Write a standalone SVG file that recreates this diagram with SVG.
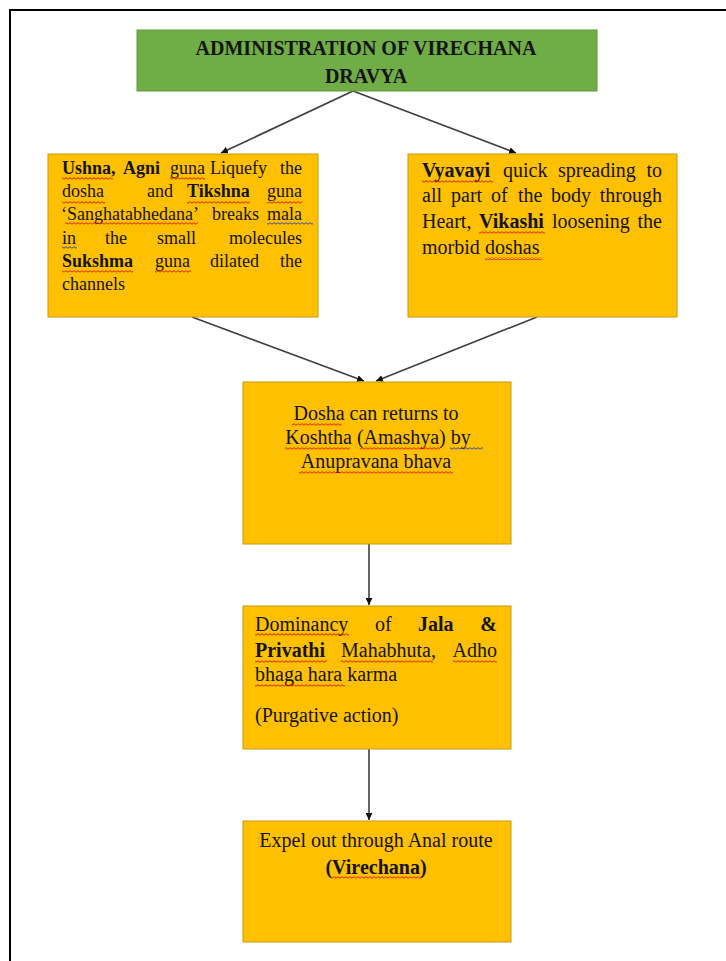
<svg xmlns="http://www.w3.org/2000/svg" width="726" height="961" viewBox="0 0 726 961">
<style>
.t{font-family:"Liberation Serif","Times New Roman",serif;font-size:20px;fill:#141414}
.s{font-size:18px}
.b{font-weight:bold}
.e{text-anchor:end}
.m{text-anchor:middle}
.box{fill:#FFC000;stroke:#C99A06;stroke-width:1}
.conn{stroke:#3f3f3f;stroke-width:1.6;fill:none;marker-end:url(#ah)}
</style>
<defs>
<marker id="ah" viewBox="0 0 10 10" refX="10" refY="5" markerWidth="7" markerHeight="7" markerUnits="userSpaceOnUse" orient="auto">
<path d="M0 0 L10 5 L0 10 z" fill="#111"/>
</marker>
<pattern id="sq" width="4" height="3" patternUnits="userSpaceOnUse">
<path d="M0 2.2 L2 0.7 L4 2.2" fill="none" stroke="#e01010" stroke-width="0.9"/>
</pattern>
<pattern id="sqb" width="4" height="3" patternUnits="userSpaceOnUse">
<path d="M0 2.2 L2 0.7 L4 2.2" fill="none" stroke="#2a3bc0" stroke-width="0.9"/>
</pattern>
</defs>
<rect width="726" height="961" fill="#fff"/>
<path d="M10 961 V10 H726" fill="none" stroke="#000" stroke-width="2"/>

<g id="connectors">
<path class="conn" d="M353 91 L221 153"/>
<path class="conn" d="M353 91 L516 153"/>
<path class="conn" d="M192 317 L364 381"/>
<path class="conn" d="M537 317 L376 381"/>
<path class="conn" d="M369 544 L369 605"/>
<path class="conn" d="M369 749 L369 820"/>
</g>

<g id="title">
<rect x="137" y="30" width="460" height="61" fill="#70AD47" stroke="#5E9A3A" stroke-width="1"/>
<text class="t b m" x="366" y="55">ADMINISTRATION OF VIRECHANA</text>
<text class="t b m" x="366" y="83">DRAVYA</text>
</g>

<g id="gunas">
<rect class="box" x="48" y="154" width="270" height="163"/>
<text class="t s" y="174"><tspan x="62" class="b">Ushna,</tspan><tspan x="123" class="b">Agni</tspan><tspan x="170">guna</tspan><tspan x="210">Liquefy</tspan><tspan x="302" class="e">the</tspan></text>
<text class="t s" y="197"><tspan x="62">dosha</tspan><tspan x="147">and</tspan><tspan x="187" class="b">Tikshna</tspan><tspan x="302" class="e">guna</tspan></text>
<text class="t s" y="220"><tspan x="61">‘Sanghatabhedana’</tspan><tspan x="212">breaks</tspan><tspan x="267">mala</tspan></text>
<text class="t s" y="244"><tspan x="62">in</tspan><tspan x="105">the</tspan><tspan x="157">small</tspan><tspan x="302" class="e">molecules</tspan></text>
<text class="t s" y="267"><tspan x="62" class="b">Sukshma</tspan><tspan x="155">guna</tspan><tspan x="210">dilated</tspan><tspan x="302" class="e">the</tspan></text>
<text class="t s" y="290"><tspan x="62">channels</tspan></text>
<rect x="62" y="177" width="51" height="3" fill="url(#sq)"/>
<rect x="170" y="177" width="35" height="3" fill="url(#sq)"/>
<rect x="62" y="201" width="43" height="3" fill="url(#sq)"/>
<rect x="187" y="201" width="63" height="3" fill="url(#sq)"/>
<rect x="267" y="201" width="35" height="3" fill="url(#sq)"/>
<rect x="65" y="222" width="133" height="3" fill="url(#sq)"/>
<rect x="267" y="222" width="46" height="3" fill="url(#sqb)"/>
<rect x="62" y="246" width="15" height="3" fill="url(#sqb)"/>
<rect x="62" y="270" width="71" height="3" fill="url(#sq)"/>
<rect x="155" y="270" width="36" height="3" fill="url(#sq)"/>
</g>

<g id="vyavayi">
<rect class="box" x="408" y="154" width="269" height="163"/>
<text class="t" y="177"><tspan x="422" class="b">Vyavayi</tspan><tspan x="503">quick</tspan><tspan x="558">spreading</tspan><tspan x="662" class="e">to</tspan></text>
<text class="t" y="202"><tspan x="422">all</tspan><tspan x="451">part</tspan><tspan x="491">of</tspan><tspan x="518">the</tspan><tspan x="551">body</tspan><tspan x="662" class="e">through</tspan></text>
<text class="t" y="228"><tspan x="422">Heart,</tspan><tspan x="479" class="b">Vikashi</tspan><tspan x="552">loosening</tspan><tspan x="662" class="e">the</tspan></text>
<text class="t" y="254"><tspan x="422">morbid</tspan><tspan x="485">doshas</tspan></text>
<rect x="422" y="180" width="71" height="3" fill="url(#sq)"/>
<rect x="479" y="231" width="66" height="3" fill="url(#sq)"/>
<rect x="485" y="257" width="57" height="3" fill="url(#sq)"/>
</g>

<g id="dosha-return">
<rect class="box" x="243" y="382" width="268" height="162"/>
<text class="t m" x="376" y="420">Dosha can returns to</text>
<text class="t m" x="378" y="444">Koshtha (Amashya) by</text>
<text class="t m" x="376" y="468">Anupravana bhava</text>
<rect x="292" y="423" width="50" height="3" fill="url(#sq)"/>
<rect x="285" y="447" width="65" height="3" fill="url(#sq)"/>
<rect x="360" y="447" width="80" height="3" fill="url(#sq)"/>
<rect x="450" y="447" width="33" height="3" fill="url(#sqb)"/>
<rect x="299" y="471" width="154" height="3" fill="url(#sq)"/>
</g>

<g id="dominancy">
<rect class="box" x="243" y="606" width="268" height="143"/>
<text class="t" y="631"><tspan x="255">Dominancy</tspan><tspan x="375">of</tspan><tspan x="418" class="b">Jala</tspan><tspan x="497" class="e b">&amp;</tspan></text>
<text class="t" y="657"><tspan x="255" class="b">Privathi</tspan><tspan x="341">Mahabhuta,</tspan><tspan x="497" class="e">Adho</tspan></text>
<text class="t" y="681"><tspan x="255">bhaga hara karma</tspan></text>
<text class="t" y="722"><tspan x="255">(Purgative action)</tspan></text>
<rect x="255" y="633" width="94" height="3" fill="url(#sq)"/>
<rect x="255" y="660" width="72" height="3" fill="url(#sq)"/>
<rect x="341" y="660" width="92" height="3" fill="url(#sq)"/>
<rect x="453" y="660" width="44" height="3" fill="url(#sq)"/>
<rect x="255" y="684" width="90" height="3" fill="url(#sq)"/>
</g>

<g id="expel">
<rect class="box" x="243" y="821" width="268" height="121"/>
<text class="t m" x="376" y="847">Expel out through Anal route</text>
<text class="t m b" x="376" y="874">(Virechana)</text>
<rect x="332" y="876" width="90" height="3" fill="url(#sq)"/>
</g>
</svg>
